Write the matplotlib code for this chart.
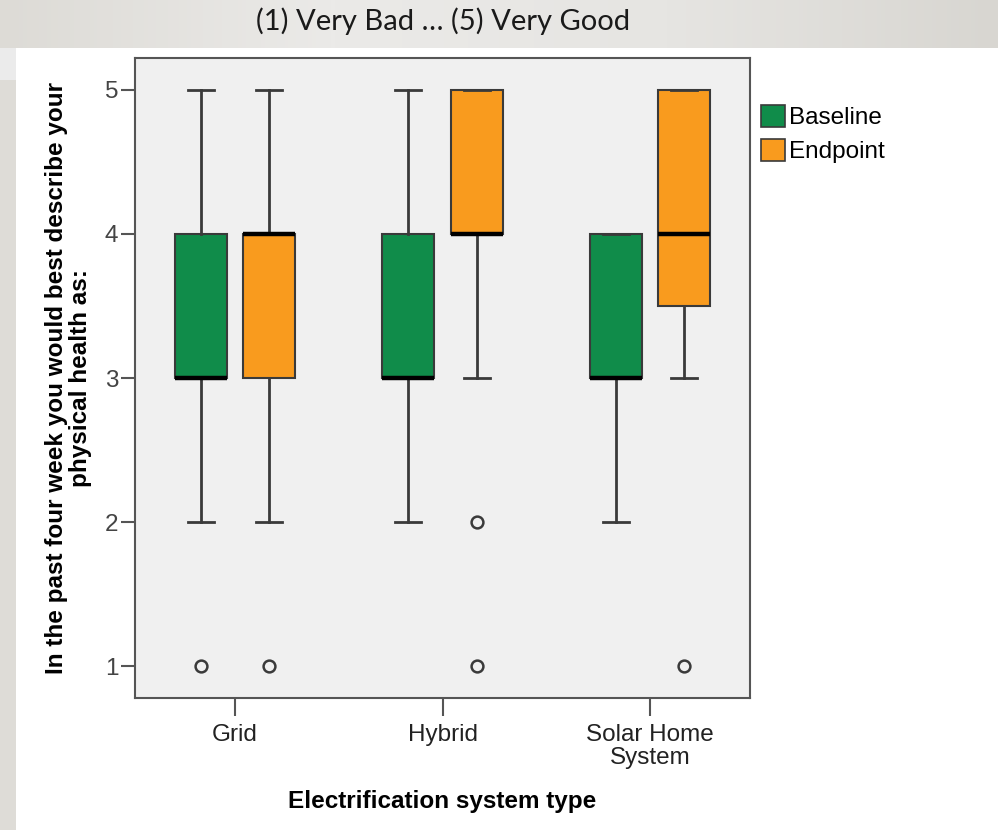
import matplotlib
matplotlib.use("Agg")
import matplotlib.pyplot as plt
import numpy as np
from matplotlib.patches import Rectangle, Patch
from matplotlib.colors import LinearSegmentedColormap

categories = ["Grid", "Hybrid", "Solar Home\nSystem"]
series = ["Baseline", "Endpoint"]
# per category box statistics
baseline_whislo = [2, 2, 2]
baseline_q1 = [3, 3, 3]
baseline_med = [3, 3, 3]
baseline_q3 = [4, 4, 4]
baseline_whishi = [5, 5, 4]
baseline_fliers = [[1], [], []]
endpoint_whislo = [2, 3, 3]
endpoint_q1 = [3, 4, 3.5]
endpoint_med = [4, 4, 4]
endpoint_q3 = [4, 5, 5]
endpoint_whishi = [5, 5, 5]
endpoint_fliers = [[1], [2, 1], [1]]
yticks = [1, 2, 3, 4, 5]

colors = ["#108c4a", "#f99b1e"]
W, H = 998, 830
fig = plt.figure(figsize=(W / 100, H / 100), dpi=100)
fig.patch.set_facecolor("white")

# slide background: top band gradient and left strip
bg = fig.add_axes([0, 0, 1, 1], zorder=-10)
bg.axis("off")
grad = np.linspace(0, 1, 256)[None, :]
cm = LinearSegmentedColormap.from_list("g", ["#dddbd6", "#ebeae8", "#e6e5e2", "#d8d6d1"])
bg.imshow(grad, cmap=cm, extent=[0, W, 48, 0], aspect="auto")
bg.add_patch(Rectangle((0, 48), 16, 32, color="#ebebeb", lw=0))
bg.add_patch(Rectangle((0, 80), 16, H - 80, color="#dedcd7", lw=0))
bg.set_xlim(0, W); bg.set_ylim(H, 0)

fig.text(443 / W, 1 - 21 / H, "(1) Very Bad \u2026 (5) Very Good", ha="center", va="center",
         fontsize=21, family=["Lato", "DejaVu Sans"], color="#1a1a1a")

ax = fig.add_axes([135 / W, 1 - 698 / H, (750 - 135) / W, (698 - 58) / H])
ax.set_facecolor("#f0f0f0")

off = 0.164
bw = 0.25
edge = "#3a3a3a"
for si, (wl, q1, md, q3, wh, fl) in enumerate([
        (baseline_whislo, baseline_q1, baseline_med, baseline_q3, baseline_whishi, baseline_fliers),
        (endpoint_whislo, endpoint_q1, endpoint_med, endpoint_q3, endpoint_whishi, endpoint_fliers)]):
    stats = []
    for ci in range(len(categories)):
        stats.append(dict(whislo=wl[ci], q1=q1[ci], med=md[ci], q3=q3[ci], whishi=wh[ci], fliers=fl[ci]))
    pos = [ci + (off if si else -off) for ci in range(len(categories))]
    ax.bxp(stats, positions=pos, widths=bw, patch_artist=True, showfliers=True,
           capwidths=0.125,
           boxprops=dict(facecolor=colors[si], edgecolor=edge, linewidth=1.5),
           whiskerprops=dict(color=edge, linewidth=2),
           capprops=dict(color=edge, linewidth=2),
           medianprops=dict(color="black", linewidth=3.2, solid_capstyle="butt"),
           flierprops=dict(marker="o", markerfacecolor="none", markeredgecolor=edge,
                           markersize=8.5, markeredgewidth=1.8),
           manage_ticks=False)

ax.set_xlim(-0.48, 2.48)
ax.set_ylim(0.78, 5.22)
ax.set_xticks(range(len(categories)))
ax.set_xticklabels(categories, fontsize=17.5, family="Liberation Sans", color="#222222", linespacing=1.05)
ax.set_yticks(yticks)
ax.set_yticklabels([str(v) for v in yticks], fontsize=17.5, family="Liberation Sans", color="#444444")
ax.tick_params(axis="y", direction="out", length=10, width=1.5, color="#555555", pad=2)
ax.tick_params(axis="x", direction="out", length=13, width=1.5, color="#555555", pad=6)
for s in ax.spines.values():
    s.set_color("#555555"); s.set_linewidth(1.5)

ax.set_xlabel("Electrification system type", fontsize=17.5, fontweight="bold",
              family="Liberation Sans", labelpad=15)
ax.set_ylabel("In the past four week you would best describe your\nphysical health as:",
              fontsize=17.5, fontweight="bold", family="Liberation Sans", labelpad=9,
              linespacing=1.08)

handles = [Patch(facecolor=colors[i], edgecolor=edge, linewidth=1.2, label=series[i]) for i in range(2)]
fig.legend(handles=handles, loc="upper left", bbox_to_anchor=(761 / W, 1 - 105 / H), frameon=False,
           prop=dict(family="Liberation Sans", size=17.5), handlelength=1.0, handleheight=1.0,
           handletextpad=0.15, borderaxespad=0, labelspacing=0.4, borderpad=0)

fig.savefig("out.png", dpi=100)
